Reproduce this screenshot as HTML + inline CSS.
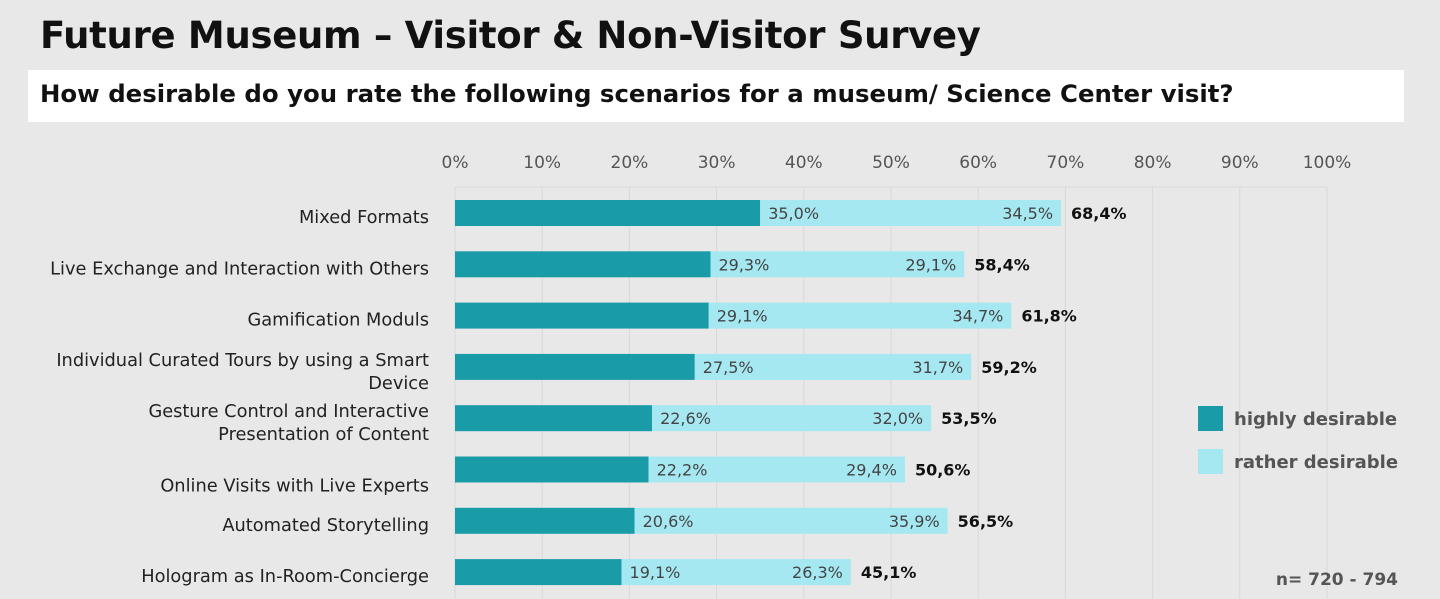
<!DOCTYPE html>
<html><head><meta charset="utf-8"><style>
body{margin:0;width:1440px;height:599px;background:#e9e8e8;font-family:"DejaVu Sans","Liberation Sans",sans-serif;overflow:hidden;position:relative}
#title{position:absolute;left:40px;top:14px;font-size:37px;font-weight:bold;color:#111;letter-spacing:-0.3px}
#sub{position:absolute;left:28px;top:70px;width:1376px;height:52px;background:#fff}
#sub span{position:absolute;left:12px;top:9px;font-size:24.4px;font-weight:bold;color:#111}
svg{position:absolute;left:0;top:0}
</style></head><body>
<div id="title">Future Museum – Visitor &amp; Non-Visitor Survey</div>
<div id="sub"><span>How desirable do you rate the following scenarios for a museum/ Science Center visit?</span></div>
<svg id="chart" width="1440" height="599" font-family="DejaVu Sans, Liberation Sans, sans-serif"></svg>
<script>
const categories=[["Mixed Formats"],["Live Exchange and Interaction with Others"],["Gamification Moduls"],["Individual Curated Tours by using a Smart","Device"],["Gesture Control and Interactive","Presentation of Content"],["","Online Visits with Live Experts"],["Automated Storytelling"],["Hologram as In-Room-Concierge"]];
const highly=[35.0,29.3,29.1,27.5,22.6,22.2,20.6,19.1];
const rather=[34.5,29.1,34.7,31.7,32.0,29.4,35.9,26.3];
const totals=[68.4,58.4,61.8,59.2,53.5,50.6,56.5,45.1];
const ticks=[0,10,20,30,40,50,60,70,80,90,100];
const svg=document.getElementById('chart');const NS='http://www.w3.org/2000/svg';
const x=v=>455+v*8.72;const y=i=>213+i*51.3;
function mk(t,a,txt){const e=document.createElementNS(NS,t);for(const k in a)e.setAttribute(k,a[k]);if(txt!==undefined)e.textContent=txt;svg.appendChild(e);return e;}
ticks.forEach(t=>{
 const g=mk('line',{x1:x(t),x2:x(t),y1:187,y2:599,stroke:'#d9d8d8','stroke-width':1});
 
 
 const l=mk('text',{x:x(t),y:168,'text-anchor':'middle','font-size':17,fill:'#555'},t+'%');
 
 
});
mk('line',{x1:455,x2:1327,y1:187,y2:187,stroke:'#d9d8d8'});
const fmt=v=>v.toFixed(1).replace('.',',')+'%';
categories.forEach((c,i)=>{
 const cy=y(i);
 const b1=mk('rect',{x:x(0),y:cy-13,width:x(highly[i])-x(0),height:26,fill:'#1a9ba8'});
 
 
 const b2=mk('rect',{x:x(highly[i]),y:cy-13,width:x(highly[i]+rather[i])-x(highly[i]),height:26,fill:'#a6e8f2'});
 
 
 const l1=mk('text',{x:x(highly[i])+8,y:cy+6,'font-size':16,fill:'#444'},fmt(highly[i]));
 
 
 const l2=mk('text',{x:x(highly[i]+rather[i])-8,y:cy+6,'font-size':16,fill:'#444','text-anchor':'end'},fmt(rather[i]));
 
 
 const l3=mk('text',{x:x(highly[i]+rather[i])+10,y:cy+6,'font-size':16,fill:'#111','font-weight':'bold'},fmt(totals[i]));
 
 
 if(c.length===1){
  const t=mk('text',{x:429,y:cy+10,'text-anchor':'end','font-size':17.8,fill:'#222'},c[0]);
  
  
 }else{
  c.forEach((s,k)=>{const t=mk('text',{x:429,y:cy-1+(k*23),'text-anchor':'end','font-size':17.8,fill:'#222'},s);
  
  });
 }
});
const lg=[['highly desirable','#1a9ba8',418],['rather desirable','#a6e8f2',461]];
lg.forEach(([n,c,yy])=>{
 const r=mk('rect',{x:1198,y:yy-12,width:25,height:25,fill:c});
 
 
 const t=mk('text',{x:1234,y:yy+7,'font-size':18,'font-weight':'bold',fill:'#555'},n);
 
 
});
const n=mk('text',{x:1398,y:585,'text-anchor':'end','font-size':17,'font-weight':'bold',fill:'#555'},'n= 720 - 794');


</script>
</body></html>
